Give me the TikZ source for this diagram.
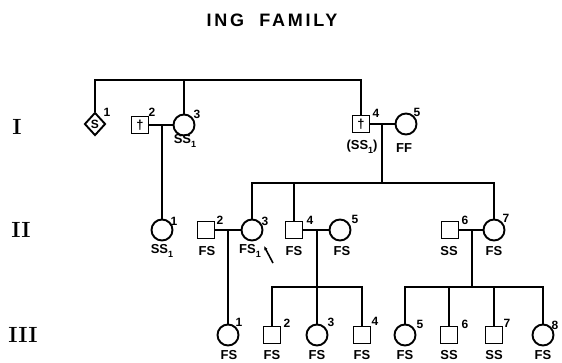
\documentclass[tikz,border=0pt]{standalone}
\usepackage{fontspec}
\setsansfont{Liberation Sans}
\usetikzlibrary{positioning, shapes.geometric, arrows.meta}

\newcommand{\gsub}[1]{\raisebox{-0.5ex}{\fontsize{9}{9}\selectfont #1}}

\begin{document}
\begin{tikzpicture}[
    x=1pt, y=-1pt,
    font=\sffamily\bfseries,
    >=Latex,
    male/.style={rectangle, draw, line width=1.9pt, minimum size=17pt, inner sep=0pt, font=\sffamily\bfseries\fontsize{13}{13}\selectfont},
    female/.style={circle, draw, line width=1.9pt, minimum size=21pt, inner sep=0pt},
    sexless/.style={diamond, draw, line width=1.9pt, minimum width=21pt, minimum height=23pt, inner sep=0pt, font=\sffamily\bfseries\fontsize{12}{12}\selectfont},
    gtype/.style={font=\sffamily\bfseries\fontsize{13}{13}\selectfont, inner sep=0pt},
    num/.style={font=\sffamily\bfseries\fontsize{12}{12}\selectfont, inner sep=0pt},
    gen/.style={font=\rmfamily\bfseries\fontsize{22}{22}\selectfont, inner sep=0pt},
    line/.style={line width=2pt}
]
\useasboundingbox (0,0) rectangle (562,362);

% Title
\node[inner sep=0pt, font=\sffamily\bfseries\fontsize{18}{18}\selectfont\addfontfeature{LetterSpace=15}] (title) at (272,20) {ING~~FAMILY};

% Generation labels
\node[gen] (genI) at (17,127) {I};
\node[gen] (genII) at (21,230) {II};
\node[gen] (genIII) at (23,335) {III};

% Generation I
\node[sexless] (i1) at (95,124) {S};
\node[male] (i2) at (140,125) {\symbol{"2020}};
\node[female] (i3) at (184,125) {};
\node[male] (i4) at (361,124) {\symbol{"2020}};
\node[female] (i5) at (406,124) {};

% Generation II
\node[female] (ii1) at (162,230) {};
\node[male] (ii2) at (206,230) {};
\node[female] (ii3) at (252,230) {};
\node[male] (ii4) at (294,230) {};
\node[female] (ii5) at (340,230) {};
\node[male] (ii6) at (450,230) {};
\node[female] (ii7) at (494,230) {};

% Generation III
\node[female] (iii1) at (228,335) {};
\node[male] (iii2) at (272,335) {};
\node[female] (iii3) at (317,335) {};
\node[male] (iii4) at (362,335) {};
\node[female] (iii5) at (405,335) {};
\node[male] (iii6) at (449,335) {};
\node[male] (iii7) at (494,335) {};
\node[female] (iii8) at (543,335) {};

% Numbers
\node[num] (n_i1) at (107,112) {1};
\node[num] (n_i2) at (152,112) {2};
\node[num] (n_i3) at (197,114) {3};
\node[num] (n_i4) at (376,113) {4};
\node[num] (n_i5) at (417,112) {5};
\node[num] (n_ii1) at (174,221) {1};
\node[num] (n_ii2) at (220,220) {2};
\node[num] (n_ii3) at (265,221) {3};
\node[num] (n_ii4) at (310,220) {4};
\node[num] (n_ii5) at (355,219) {5};
\node[num] (n_ii6) at (465,220) {6};
\node[num] (n_ii7) at (506,218) {7};
\node[num] (n_iii1) at (239,322) {1};
\node[num] (n_iii2) at (287,323) {2};
\node[num] (n_iii3) at (331,322) {3};
\node[num] (n_iii4) at (375,321) {4};
\node[num] (n_iii5) at (420,324) {5};
\node[num] (n_iii6) at (465,324) {6};
\node[num] (n_iii7) at (507,323) {7};
\node[num] (n_iii8) at (555,325) {8};

% Types
\node[gtype] (g_i3) at (185,141) {SS\gsub{1}};
\node[gtype] (g_i4) at (362,147) {(SS\gsub{1})};
\node[gtype] (g_i5) at (404,148) {FF};
\node[gtype] (g_ii1) at (162,251) {SS\gsub{1}};
\node[gtype] (g_ii2) at (207,251) {FS};
\node[gtype] (g_ii3) at (250,251) {FS\gsub{1}};
\node[gtype] (g_ii4) at (294,251) {FS};
\node[gtype] (g_ii5) at (342,251) {FS};
\node[gtype] (g_ii6) at (449,251) {SS};
\node[gtype] (g_ii7) at (494,251) {FS};
\node[gtype] (g_iii1) at (229,355) {FS};
\node[gtype] (g_iii2) at (272,355) {FS};
\node[gtype] (g_iii3) at (317,355) {FS};
\node[gtype] (g_iii4) at (362,355) {FS};
\node[gtype] (g_iii5) at (405,355) {FS};
\node[gtype] (g_iii6) at (449,355) {SS};
\node[gtype] (g_iii7) at (494,355) {SS};
\node[gtype] (g_iii8) at (543,355) {FS};

% Helper points
\coordinate (sibI) at (184,80);
\coordinate (m23) at (162,125);
\coordinate (m45) at (382,124);
\coordinate (sibII) at (382,183);
\coordinate (mII23) at (228,230);
\coordinate (mII45) at (317,230);
\coordinate (mII67) at (472,230);
\coordinate (sibIIIa) at (317,287);
\coordinate (sibIIIb) at (472,287);
\coordinate (pbtail) at (273,263);
\coordinate (pbtip) at (264,246);

% Lines
\draw[line] (i1.north) -- (i1.north |- sibI) -- (i4.north |- sibI) -- (i4.north);
\draw[line] (sibI) -- (i3.north);
\draw[line] (i2) -- (i3);
\draw[line] (m23) -- (ii1.north);
\draw[line] (i4) -- (i5);
\draw[line] (m45) -- (sibII);
\draw[line] (ii3.north) -- (ii3.north |- sibII) -- (ii7.north |- sibII) -- (ii7.north);
\draw[line] (ii4.north) -- (ii4.north |- sibII);

\draw[line] (ii2) -- (ii3);
\draw[line] (mII23) -- (iii1.north);
\draw[line] (ii4) -- (ii5);
\draw[line] (mII45) -- (iii3.north);
\draw[line] (iii2.north) -- (iii2.north |- sibIIIa) -- (iii4.north |- sibIIIa) -- (iii4.north);
\draw[line] (ii6) -- (ii7);
\draw[line] (mII67) -- (sibIIIb);
\draw[line] (iii5.north) -- (iii5.north |- sibIIIb) -- (iii8.north |- sibIIIb) -- (iii8.north);
\draw[line] (iii6.north) -- (iii6.north |- sibIIIb);
\draw[line] (iii7.north) -- (iii7.north |- sibIIIb);

\draw[line width=1.6pt, -{Latex[length=4pt, width=3.5pt]}] (pbtail) -- (pbtip);

\end{tikzpicture}
\end{document}
